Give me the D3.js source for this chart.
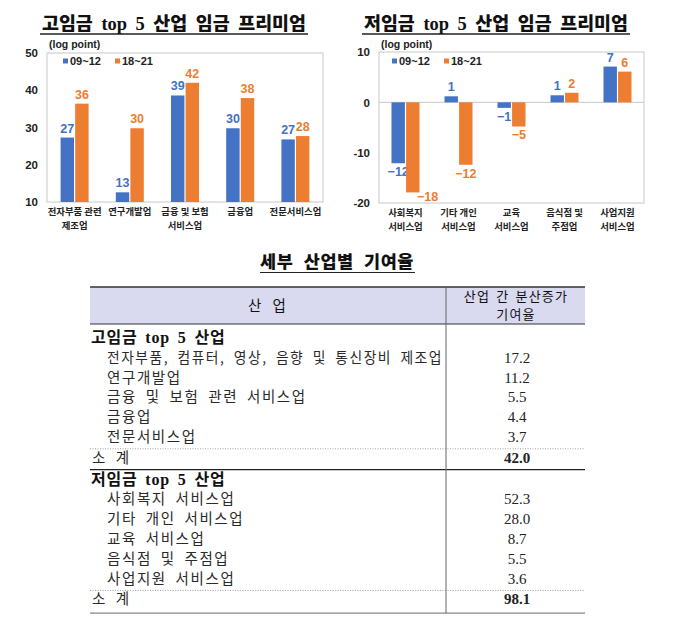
<!DOCTYPE html>
<html><head><meta charset="utf-8">
<script src="https://cdn.jsdelivr.net/npm/d3@7"></script>
<style>body{margin:0;background:#fff}svg{display:block}</style>
</head><body>
<svg id="c" width="674" height="635"></svg>
<script>
// ---- data ----
const seriesNames = ["09~12", "18~21"];
const highCats = [["전자부품 관련","제조업"],["연구개발업"],["금융 및 보험","서비스업"],["금융업"],["전문서비스업"]];
const high0912 = [27.3, 12.6, 38.6, 29.8, 26.8];
const high1821 = [36.4, 29.8, 42.0, 37.9, 27.7];
const highTicks = [10, 20, 30, 40, 50];

const lowCats = [["사회복지","서비스업"],["기타 개인","서비스업"],["교육","서비스업"],["음식점 및","주점업"],["사업지원","서비스업"]];
const low0912 = [-12.1, 1.2, -1.1, 1.4, 7.1];
const low1821 = [-17.9, -12.4, -4.8, 1.9, 6.1];
const lowTicks = [-20, -10, 0, 10];

const tableHeader = ["산 업", ["산업 간 분산증가", "기여율"]];
const highGroupTitle = "고임금 top 5 산업";
const highItems = ["전자부품, 컴퓨터, 영상, 음향 및 통신장비 제조업","연구개발업","금융 및 보험 관련 서비스업","금융업","전문서비스업"];
const highShares = ["17.2","11.2","5.5","4.4","3.7"];
const highTotal = "42.0";
const lowGroupTitle = "저임금 top 5 산업";
const lowItems = ["사회복지 서비스업","기타 개인 서비스업","교육 서비스업","음식점 및 주점업","사업지원 서비스업"];
const lowShares = ["52.3","28.0","8.7","5.5","3.6"];
const lowTotal = "98.1";
const subtotalLabel = "소 계";

const colors = ["#4472C4", "#ED7D31"];
const svg = d3.select("#c");
const sans = "'Liberation Sans','Noto Sans CJK KR',Arial,sans-serif";
const kr = "'Noto Sans CJK KR',sans-serif";
const serif = "'Liberation Serif','Noto Sans CJK KR',serif";

function fitText(sel, maxW) {
  sel.each(function() {
    if (this.getComputedTextLength() > maxW) {
      d3.select(this).attr("textLength", maxW).attr("lengthAdjust", "spacingAndGlyphs");
    }
  });
}

function chart(o) {
  const g = svg.append("g");
  const t = g.append("text").attr("x", o.titleX).attr("y", 30).attr("text-anchor", "middle")
    .attr("font-family", serif).attr("font-weight", 900).attr("font-size", 18.5)
    .attr("word-spacing", 4).attr("fill", "#111").text(o.title);
  fitText(t, o.titleW - 4);
  g.append("line").attr("x1", o.titleX - o.titleW/2).attr("x2", o.titleX + o.titleW/2)
    .attr("y1", 34).attr("y2", 34).attr("stroke", "#222").attr("stroke-width", 1.3);

  const x = d3.scaleBand().domain(d3.range(o.cats.length)).range([o.x0, o.x1]);
  const xs = d3.scaleBand().domain([0, 1]).range([x.bandwidth()/2 - 14, x.bandwidth()/2 + 14]).paddingInner(0.08);
  const y = d3.scaleLinear().domain(o.domain).range([o.y1, o.y0]);

  g.append("rect").attr("x", o.x0).attr("y", o.y0).attr("width", o.x1 - o.x0).attr("height", o.y1 - o.y0)
    .attr("fill", "none").attr("stroke", "#c8c8c8").attr("stroke-width", 1);

  const ya = d3.axisLeft(y).tickValues(o.ticks).tickSize(0).tickPadding(0).tickFormat(d => String(d));
  const yg = g.append("g").attr("transform", `translate(${o.x0 - 9},0)`).call(ya);
  yg.select(".domain").remove();
  yg.selectAll("text").attr("font-family", sans).attr("font-weight", "bold").attr("font-size", 11.5).attr("fill", "#222");

  g.append("text").attr("x", o.x0 + 2).attr("y", 48).attr("font-family", sans).attr("font-weight", "bold")
    .attr("font-size", 10.5).attr("fill", "#222").text("(log point)");

  if (o.domain[0] < 0) {
    g.append("line").attr("x1", o.x0).attr("x2", o.x1).attr("y1", y(0)).attr("y2", y(0))
      .attr("stroke", "#c8c8c8").attr("stroke-width", 1);
  }

  const baseV = o.domain[0] > 0 ? o.domain[0] : 0;
  [o.s0, o.s1].forEach((vals, si) => {
    const cg = g.append("g");
    cg.selectAll("rect").data(vals).join("rect")
      .attr("x", (d, i) => x(i) + xs(si)).attr("width", xs.bandwidth())
      .attr("y", d => y(Math.max(d, baseV))).attr("height", d => Math.abs(y(d) - y(baseV)))
      .attr("fill", colors[si]);
    cg.selectAll("text").data(vals).join("text")
      .attr("x", (d, i) => {
        const cx = x(i) + xs(si) + xs.bandwidth()/2;
        const ty = d >= 0 ? y(d) - 5 : y(d) + 13;
        return ty > o.y1 - 2 ? cx + xs.bandwidth()/2 + 8 : cx;
      })
      .attr("y", d => {
        const ty = d >= 0 ? y(d) - 5 : y(d) + 13;
        return ty > o.y1 - 2 ? y(d) + 9 : ty;
      })
      .attr("text-anchor", "middle").attr("font-family", sans).attr("font-weight", "bold")
      .attr("font-size", 12.5).attr("fill", colors[si])
      .text(d => Math.round(d) < 0 ? "−" + Math.abs(Math.round(d)) : String(Math.round(d)));
  });

  const xl = g.append("g");
  o.cats.forEach((lines, i) => {
    lines.forEach((l, k) => xl.append("text").attr("x", x(i) + x.bandwidth()/2).attr("y", o.y1 + 13 + k * 13.5)
      .attr("text-anchor", "middle").attr("font-family", kr).attr("font-weight", "bold")
      .attr("font-size", 9.4).attr("fill", "#222").text(l));
  });

  const lg = g.append("g");
  seriesNames.forEach((n, si) => {
    const lx = o.legX + si * 52;
    lg.append("rect").attr("x", lx).attr("y", o.legY - 6.5).attr("width", 5).attr("height", 5).attr("fill", colors[si]);
    lg.append("text").attr("x", lx + 7).attr("y", o.legY).attr("font-family", sans).attr("font-weight", "bold")
      .attr("font-size", 11).attr("fill", "#222").text(n);
  });
}

chart({title: "고임금 top 5 산업 임금 프리미엄", titleX: 174, titleW: 268,
  cats: highCats, s0: high0912, s1: high1821, domain: [10, 50], ticks: highTicks,
  x0: 47, x1: 323, y0: 53, y1: 202, legX: 63, legY: 65});
chart({title: "저임금 top 5 산업 임금 프리미엄", titleX: 496, titleW: 268,
  cats: lowCats, s0: low0912, s1: low1821, domain: [-20, 10], ticks: lowTicks,
  x0: 379, x1: 644, y0: 52, y1: 203, legX: 392, legY: 65});

// ---- table ----
const T = {x0: 90, x1: 585, xd: 446, top: 287, headB: 324, rowH: 19.8};
svg.append("text").attr("x", 337).attr("y", 268).attr("text-anchor", "middle")
  .attr("font-family", kr).attr("font-weight", 900).attr("font-size", 17.5)
  .attr("letter-spacing", 0.5).attr("word-spacing", 6).attr("fill", "#111")
  .text("세부 산업별 기여율");
svg.append("line").attr("x1", 260).attr("x2", 415).attr("y1", 272.5).attr("y2", 272.5).attr("stroke", "#222").attr("stroke-width", 1);

svg.append("rect").attr("x", T.x0).attr("y", T.top).attr("width", T.x1 - T.x0).attr("height", T.headB - T.top).attr("fill", "#D9D9EF");
svg.append("line").attr("x1", T.x0).attr("x2", T.x1).attr("y1", T.top).attr("y2", T.top).attr("stroke", "#333").attr("stroke-width", 1.3);
svg.append("line").attr("x1", T.x0).attr("x2", T.x1).attr("y1", T.headB).attr("y2", T.headB).attr("stroke", "#333").attr("stroke-width", 1);
svg.append("text").attr("x", 267).attr("y", 311).attr("text-anchor", "middle").attr("font-family", kr)
  .attr("font-size", 14.5).attr("word-spacing", 8).attr("fill", "#111").text(tableHeader[0]);
tableHeader[1].forEach((l, k) => svg.append("text").attr("x", 516).attr("y", 300.5 + k * 18.5).attr("text-anchor", "middle")
  .attr("font-family", kr).attr("font-size", 13).attr("letter-spacing", 1.2).attr("word-spacing", 2)
  .attr("fill", "#111").text(l));

let yy = 343;
const rows = [];
function group(title, items, shares, total) {
  rows.push({type: "title", label: title, y: yy}); yy += T.rowH;
  items.forEach((it, i) => { rows.push({type: "item", label: it, val: shares[i], y: yy}); yy += T.rowH; });
  rows.push({type: "dot", y: yy - 13});
  rows.push({type: "total", label: subtotalLabel, val: total, y: yy + 1}); yy += T.rowH;
}
group(highGroupTitle, highItems, highShares, highTotal);
rows.push({type: "solid", y: yy - 12});
yy += 3;
group(lowGroupTitle, lowItems, lowShares, lowTotal);
const bottomY = yy - 10;

rows.forEach(r => {
  if (r.type === "dot") {
    svg.append("line").attr("x1", T.x0).attr("x2", T.x1).attr("y1", r.y).attr("y2", r.y)
      .attr("stroke", "#888").attr("stroke-width", 0.8).attr("stroke-dasharray", "1,1.5");
  } else if (r.type === "solid") {
    svg.append("line").attr("x1", T.x0).attr("x2", T.x1).attr("y1", r.y).attr("y2", r.y)
      .attr("stroke", "#222").attr("stroke-width", 1.2);
  } else if (r.type === "title") {
    svg.append("text").attr("x", 91).attr("y", r.y).attr("font-family", serif).attr("font-weight", "bold")
      .attr("font-size", 16).attr("letter-spacing", 0.8).attr("word-spacing", 3)
      .attr("fill", "#111").text(r.label);
  } else {
    const tx = svg.append("text").attr("x", r.type === "item" ? 107 : 92).attr("y", r.y).attr("font-family", kr)
      .attr("font-size", 14.5).attr("letter-spacing", 1.6).attr("word-spacing", r.type === "item" ? 4 : 4)
      .attr("fill", "#2a2a2a").text(r.label);
    fitText(tx, 336);
    svg.append("text").attr("x", 517).attr("y", r.y).attr("text-anchor", "middle").attr("font-family", serif)
      .attr("font-weight", r.type === "total" ? "bold" : "normal").attr("font-size", 15).attr("fill", "#222").text(r.val);
  }
});
svg.append("line").attr("x1", T.x0).attr("x2", T.x1).attr("y1", bottomY).attr("y2", bottomY).attr("stroke", "#888").attr("stroke-width", 1.2);
svg.append("line").attr("x1", T.xd).attr("x2", T.xd).attr("y1", T.top).attr("y2", bottomY).attr("stroke", "#666").attr("stroke-width", 1);
</script>
</body></html>
